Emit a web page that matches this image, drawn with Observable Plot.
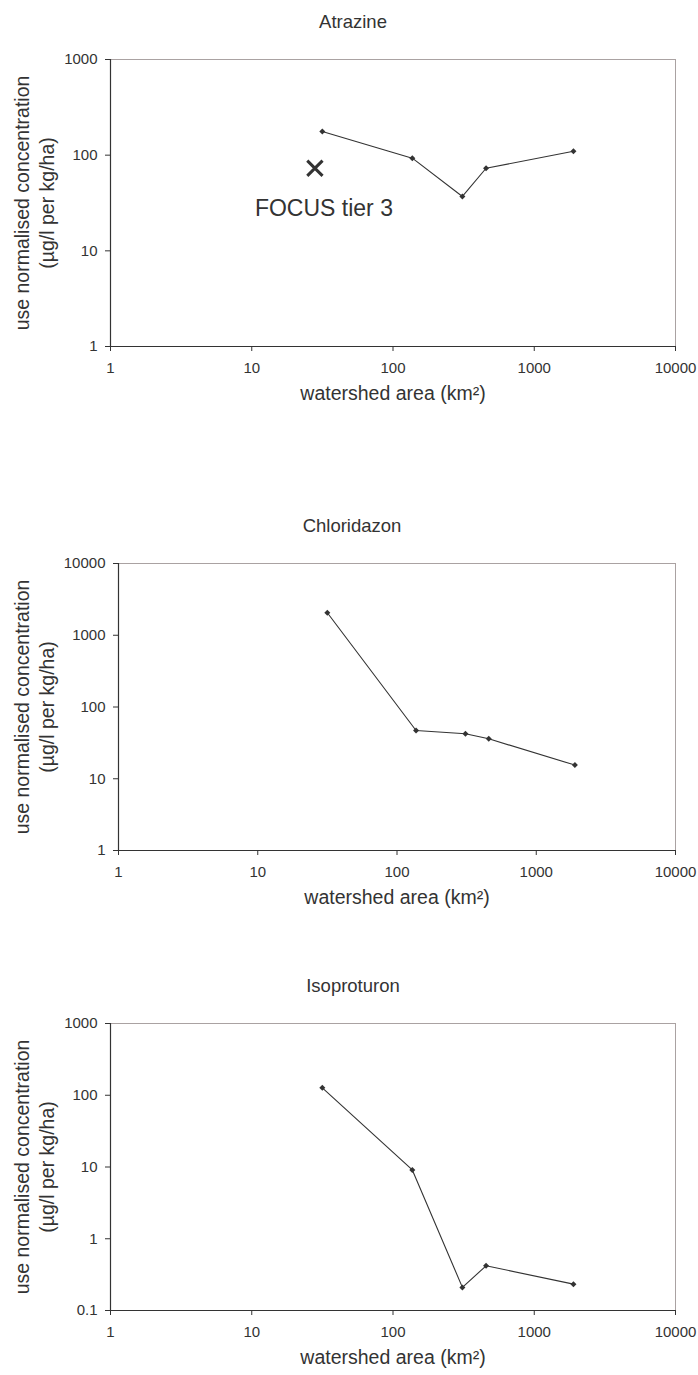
<!DOCTYPE html>
<html>
<head>
<meta charset="utf-8">
<script src="https://cdn.jsdelivr.net/npm/d3@7"></script>
<script src="https://cdn.jsdelivr.net/npm/@observablehq/plot@0.6"></script>
<style>
  html, body { margin: 0; padding: 0; background: #fff; }
  #charts svg { display: block; }
</style>
</head>
<body>
<div id="charts"></div>
<script>
// ---- data ----
const areas = [31.6, 137, 310, 456, 1895];           // watershed area (km²)
const atrazine = [177, 93, 37, 73, 110];
const chloridazon = [2060, 47, 42.4, 36, 15.5];
const isoproturon = [127, 9.1, 0.21, 0.42, 0.233];
const focusArea = [28];
const focusValue = [73];
const focusLabel = "FOCUS tier 3";
const titles = ["Atrazine", "Chloridazon", "Isoproturon"];
const xTicks = [1, 10, 100, 1000, 10000];
const yTicksA = [1, 10, 100, 1000];
const yTicksC = [1, 10, 100, 1000, 10000];
const yTicksI = [0.1, 1, 10, 100, 1000];
const xLabel = "watershed area (km²)";
const yLabel1 = "use normalised concentration";
const yLabel2 = "(µg/l per kg/ha)";

const FONT = "'Liberation Sans', Arial, Helvetica, sans-serif";
const INK = "#333";
const LIGHT = "#aaa2a2";

function panel(o) {
  const rows = areas.map((a, i) => ({area: a, value: o.values[i]}));
  const yMin = o.yTicks[0], yMax = o.yTicks[o.yTicks.length - 1];
  const marks = [
    Plot.ruleY([yMax], {stroke: LIGHT, strokeWidth: 1}),
    Plot.ruleX([xTicks[xTicks.length - 1]], {stroke: LIGHT, strokeWidth: 1}),
    Plot.ruleX([xTicks[0]], {stroke: INK, strokeWidth: 1.2}),
    Plot.ruleY([yMin], {stroke: INK, strokeWidth: 1.2}),
    Plot.axisX({ticks: xTicks, tickFormat: d => String(d), tickSize: 5, tickPadding: 11, fontSize: 15, label: null}),
    Plot.axisY({ticks: o.yTicks, tickFormat: d => String(d), tickSize: 5, tickPadding: 8, fontSize: 15, label: null}),
    Plot.line(rows, {x: "area", y: "value", stroke: INK, strokeWidth: 1.1}),
    Plot.dot(rows, {x: "area", y: "value", symbol: "diamond2", r: 2.7, fill: INK}),
    Plot.text([o.title], {frameAnchor: "top", dy: -45, dx: o.titleDx, fontSize: 18.5, fill: INK}),
    Plot.text([xLabel], {frameAnchor: "bottom", dy: 53, fontSize: 19.5, fill: INK}),
    Plot.text([yLabel1], {frameAnchor: "left", textAnchor: "middle", dx: o.yl1, rotate: -90, fontSize: 19.5, fill: INK}),
    Plot.text([yLabel2], {frameAnchor: "left", textAnchor: "middle", dx: o.yl2, rotate: -90, fontSize: 19.5, fill: INK})
  ];
  if (o.extra) marks.push(...o.extra);
  return Plot.plot({
    width: 698,
    height: o.height,
    marginLeft: o.marginLeft,
    marginRight: 23,
    marginTop: o.marginTop,
    marginBottom: o.marginBottom,
    style: {fontFamily: FONT, color: INK, background: "white", overflow: "visible"},
    x: {type: "log", domain: [xTicks[0], xTicks[xTicks.length - 1]]},
    y: {type: "log", domain: [yMin, yMax]},
    marks
  });
}

const focusRows = focusArea.map((a, i) => ({area: a, value: focusValue[i]}));
const host = document.getElementById("charts");

host.appendChild(panel({
  title: titles[0], values: atrazine, yTicks: yTicksA,
  height: 440, marginLeft: 110, marginTop: 59, marginBottom: 94,
  titleDx: -40, yl1: -88, yl2: -63,
  extra: [
    Plot.dot(focusRows, {x: "area", y: "value", symbol: "times", r: 7, stroke: INK, strokeWidth: 3}),
    Plot.text(focusRows, {x: "area", y: "value", text: () => focusLabel, dx: -60, dy: 40, textAnchor: "start", fontSize: 23, fill: INK})
  ]
}));

host.appendChild(panel({
  title: titles[1], values: chloridazon, yTicks: yTicksC,
  height: 470, marginLeft: 118, marginTop: 123, marginBottom: 60,
  titleDx: -45, yl1: -96, yl2: -71
}));

host.appendChild(panel({
  title: titles[2], values: isoproturon, yTicks: yTicksI,
  height: 465, marginLeft: 110, marginTop: 113, marginBottom: 65,
  titleDx: -40, yl1: -88, yl2: -63
}));
</script>
</body>
</html>
